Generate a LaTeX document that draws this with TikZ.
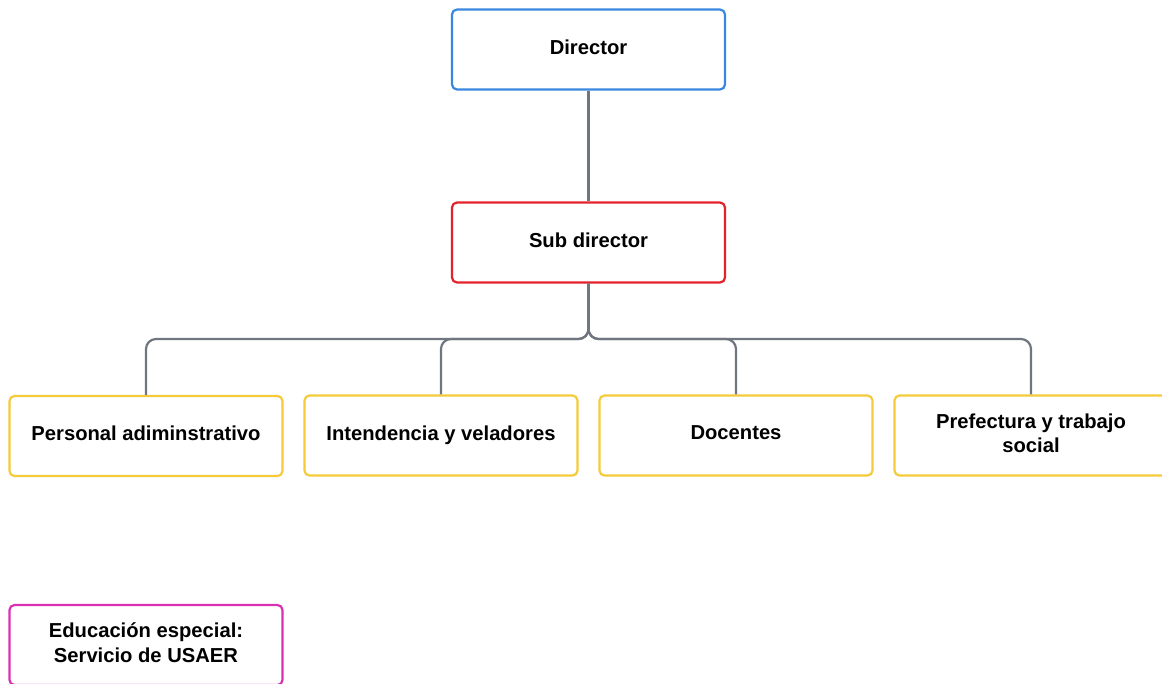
\documentclass[tikz,border=0pt]{standalone}
\usepackage{fontspec}
\setmainfont{Liberation Sans}
\definecolor{cblue}{HTML}{3A87E0}
\definecolor{cred}{HTML}{E3232B}
\definecolor{cyellow}{HTML}{F5CB3A}
\definecolor{cmag}{HTML}{D930B4}
\definecolor{cgray}{HTML}{6F7680}
\tikzset{
  box/.style={draw, line width=2.2pt, rounded corners=5pt, fill=white,
    minimum width=273pt, minimum height=80pt, inner sep=0pt, text depth=5pt,
    align=center, font=\fontsize{20.2}{24.5}\selectfont\bfseries, text=black},
  link/.style={draw=cgray, line width=2.2pt, rounded corners=10pt}
}
\begin{document}
\begin{tikzpicture}[x=1pt,y=-1pt]
\useasboundingbox (0,0) rectangle (1162,683);
\clip (0,0) rectangle (1162,683);
\node[box, draw=cblue] (dir) at (588.5,49.5) {Director};
\node[box, draw=cred] (sub) at (588.5,242.5) {Sub director};
\node[box, draw=cyellow] (per) at (146,436) {Personal adiminstrativo};
\node[box, draw=cyellow] (int) at (441,435.5) {Intendencia y veladores};
\node[box, draw=cyellow] (doc) at (736,435.5) {Docentes};
\node[box, draw=cyellow] (pre) at (1031,435.5) {Prefectura y trabajo\\social};
\node[box, draw=cmag] (edu) at (146,645) {Educación especial:\\Servicio de USAER};
\draw[link] (dir.south) -- (sub.north);
\coordinate (hub) at (588.5,339);
\foreach \c in {per,int,doc,pre}{
  \draw[link] (sub.south) -- (hub) -| (\c.north);
}
\end{tikzpicture}
\end{document}
